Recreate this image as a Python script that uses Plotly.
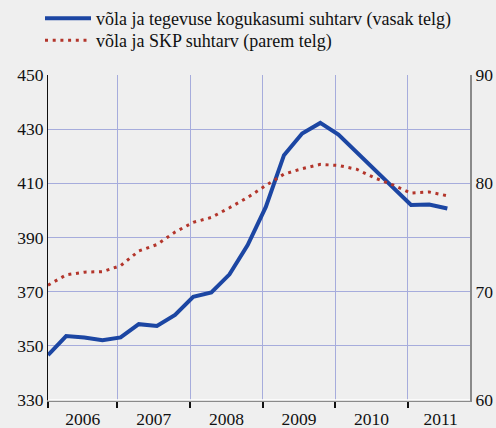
import plotly.graph_objects as go

years = [2006]*4 + [2007]*4 + [2008]*4 + [2009]*4 + [2010]*4 + [2011]*3
quarters = [1, 2, 3, 4]*5 + [1, 2, 3]

debt_profit = [346.6, 353.6, 353.1, 352.1,
               353.1, 358.0, 357.3, 361.4,
               368.1, 369.7, 376.4, 387.2,
               401.3, 420.4, 428.4, 432.3,
               428.0, 421.5, 415.0, 408.3,
               402.0, 402.2, 400.7]
debt_gdp = [70.6, 71.55, 71.8, 71.85,
            72.4, 73.75, 74.35, 75.5,
            76.4, 76.85, 77.75, 78.7,
            79.8, 80.85, 81.35, 81.75,
            81.65, 81.3, 80.5, 79.85,
            79.1, 79.2, 78.85]

year_labels = ["2006", "2007", "2008", "2009", "2010", "2011"]
left_ticks = [330, 350, 370, 390, 410, 430, 450]
right_ticks = [60, 70, 80, 90]

name_blue = "võla ja tegevuse kogukasumi suhtarv (vasak telg)"
name_red = "võla ja SKP suhtarv (parem telg)"

OFFSET = 0.043
x = [y + (q - 1) / 4 + OFFSET for y, q in zip(years, quarters)]
x0 = 2006 + OFFSET
x1 = 2011.855

FONT = "Liberation Serif, Times New Roman, serif"
BG = "#efefef"
GRID = "#a6acdc"

fig = go.Figure()
fig.add_trace(go.Scatter(x=x, y=debt_profit, name=name_blue, mode="lines",
                         line=dict(color="#1c46a3", width=4), yaxis="y",
                         legend="legend"))
fig.add_trace(go.Scatter(x=x, y=debt_gdp, name=name_red, mode="lines",
                         line=dict(color="#b3352b", width=3, dash="3px,4.7px"),
                         yaxis="y2", legend="legend2"))

boundaries = [x0, 2007, 2008, 2009, 2010, 2011]
mids = [2006.5 + OFFSET / 2, 2007.5, 2008.5, 2009.5, 2010.5, 2011.45]

legend_common = dict(xref="container", yref="container", xanchor="left",
                     yanchor="top", bgcolor="rgba(0,0,0,0)",
                     font=dict(family=FONT, size=18), itemwidth=46)

fig.update_layout(
    width=496, height=428,
    margin=dict(l=48, r=26, t=75, b=28, autoexpand=False),
    paper_bgcolor=BG, plot_bgcolor=BG,
    font=dict(family=FONT, size=17.5, color="#111111"),
    showlegend=True,
    legend=dict(x=40 / 496, y=1.017, **legend_common),
    legend2=dict(x=40 / 496, y=1 - 22 / 428, **legend_common),
    xaxis=dict(range=[x0, x1], tickvals=mids, ticktext=year_labels,
               showgrid=False, ticks="", ticklabelstandoff=2,
               showline=True, linecolor="#8a8a8a", linewidth=2,
               zeroline=False, fixedrange=True,
               tickfont=dict(family=FONT, size=17.5),
               minor=dict(tickvals=boundaries, showgrid=True,
                          gridcolor=GRID, gridwidth=1, ticks="outside",
                          ticklen=6, tickwidth=2, tickcolor="#111111")),
    yaxis=dict(range=[330, 450], tickvals=left_ticks, showgrid=True,
               gridcolor=GRID, gridwidth=1, showline=True, linecolor="#111111",
               linewidth=1, ticks="", zeroline=False,
               tickfont=dict(family=FONT, size=17.5)),
    yaxis2=dict(range=[60, 90], tickvals=right_ticks, overlaying="y",
                side="right", showgrid=False, showline=True,
                linecolor="#8a8a8a", linewidth=2, ticks="", zeroline=False,
                tickfont=dict(family=FONT, size=17.5)),
    shapes=[dict(type="line", xref="paper", yref="paper", x0=0, x1=1,
                 y0=0, y1=0, line=dict(color="white", width=1.5),
                 layer="above")],
)

fig.write_html("out.html", config={"displayModeBar": False})

with open("out.html", encoding="utf-8") as f:
    html = f.read()
html = html.replace("<body>", '<body style="margin:0;padding:0;background:#efefef;">', 1)
html = html.replace("<head>", "<head><style>html,body{margin:0;padding:0;overflow:hidden;}</style>", 1)
with open("out.html", "w", encoding="utf-8") as f:
    f.write(html)
